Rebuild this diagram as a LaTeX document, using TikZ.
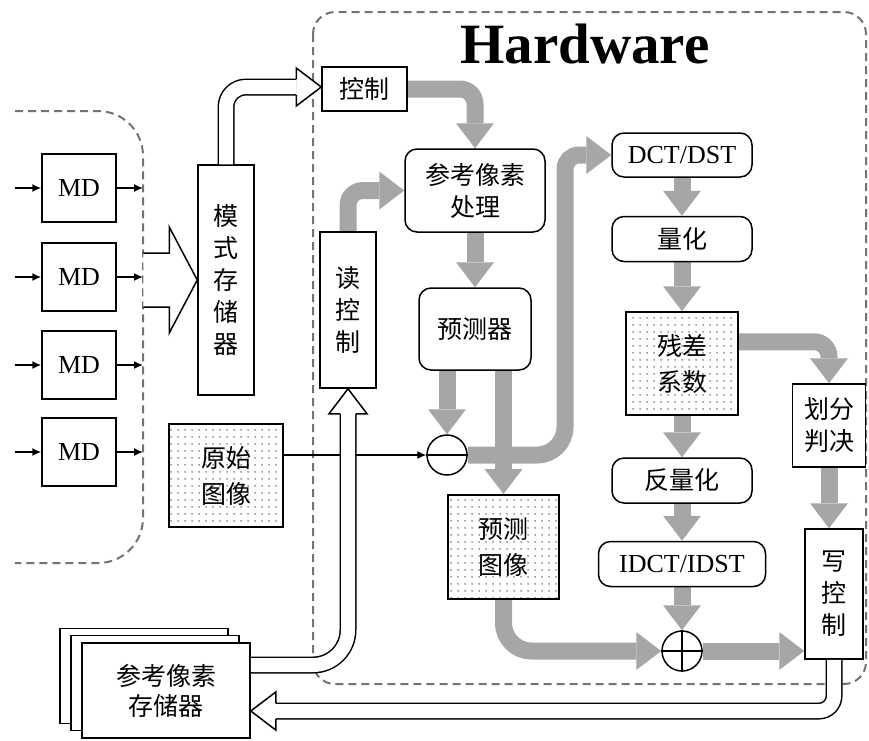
\documentclass[tikz,border=0pt]{standalone}
\usepackage{fontspec}
\setmainfont{Liberation Serif}
\newfontfamily\cjk{Noto Sans CJK SC}
\usetikzlibrary{positioning, calc, arrows.meta, backgrounds, patterns.meta}
\definecolor{flowgray}{RGB}{166,166,166}
\definecolor{dashgray}{RGB}{115,115,115}
\tikzdeclarepattern{
  name=sparsedots,
  type=uncolored,
  bounding box={(0pt,0pt) and (7pt,7pt)},
  tile size={(7pt,7pt)},
  code={\fill (3.5pt,3.5pt) circle (0.9pt);}
}

\begin{document}
\begin{tikzpicture}[x=1pt,y=-1pt,>=Latex,
    box/.style={draw, line width=1.5pt, fill=white, inner sep=0pt, align=center, font=\cjk\fontsize{25}{32}\selectfont},
    rbox/.style={box, rounded corners=12pt},
    dotbox/.style={box, line width=2pt, preaction={fill=white}, pattern=sparsedots, pattern color=black!70, font=\cjk\fontsize{25}{36}\selectfont},
    latin/.style={font=\fontsize{26}{30}\selectfont},
    sumnode/.style={draw, circle, line width=1.5pt, fill=white, minimum size=40pt, inner sep=0pt},
    sig/.style={line width=1.5pt, -{Latex[length=9pt,width=8pt]}},
    flow/.style={draw=flowgray, line width=17pt, -{Triangle[length=25pt,width=38pt,line width=0pt]}},
    hollow/.style={draw=black, line width=1.5pt, double=white, double distance=14pt},
    hollowtip/.style={draw=black, fill=white, line width=1.5pt, line join=miter},
    region/.style={draw=dashgray, line width=2pt, dash pattern=on 8pt off 5pt}]
    \useasboundingbox (0,0) rectangle (869,740);

    % left part: MD units
    \foreach \i/\y in {1/188,2/277,3/365,4/452} {
        \node[box, latin, minimum width=74pt, minimum height=68pt] (md\i) at (79,\y) {MD};
        \coordinate (in\i) at (15,\y);
        \coordinate (out\i) at (143,\y);
        \draw[sig] (in\i) -- (md\i);
        \draw[sig] (md\i) -- (out\i);
    }
    \node[box, minimum width=56pt, minimum height=230pt] (mode) at (226,280) {模\\式\\存\\储\\器};
    \node[dotbox, minimum width=114pt, minimum height=103pt] (orig) at (226,475.5) {原始\\图像};

    % reference memory (stacked)
    \node[box, minimum width=168pt, minimum height=95pt] (memback) at (144,676) {};
    \node[box, minimum width=168pt, minimum height=95pt] (memmid) at (155,683) {};
    \node[box, minimum width=168pt, minimum height=95pt, font=\cjk\fontsize{25}{30}\selectfont] (refmem) at (166,690.5) {参考像素\\存储器};

    % hardware part
    \node[font=\bfseries\fontsize{57}{60}\selectfont] (title) at (585,44) {Hardware};
    \node[box, minimum width=85pt, minimum height=44pt] (ctrl) at (364.5,89) {控制};
    \node[box, minimum width=56pt, minimum height=156pt] (rdctrl) at (348,310) {读\\控\\制};
    \node[rbox, minimum width=140pt, minimum height=83pt] (refproc) at (475,190.5) {参考像素\\处理};
    \node[rbox, minimum width=112pt, minimum height=82pt] (pred) at (475,329) {预测器};
    \node[sumnode] (sub) at (447,455) {};
    \node[dotbox, minimum width=111pt, minimum height=104pt] (predimg) at (503.5,547) {预测\\图像};

    \node[rbox, latin, minimum width=140pt, minimum height=44pt] (dct) at (682,155) {DCT/DST};
    \node[rbox, minimum width=140pt, minimum height=45pt, below=38pt of dct] (quant) {量化};
    \node[dotbox, minimum width=112pt, minimum height=103pt, below=49pt of quant] (resid) {残差\\系数};
    \node[rbox, minimum width=140pt, minimum height=45pt, below=41pt of resid] (iquant) {反量化};
    \node[rbox, latin, minimum width=167pt, minimum height=45pt, below=37pt of iquant] (idct) {IDCT/IDST};
    \node[sumnode, below=43pt of idct] (add) {};
    \node[box, minimum width=73pt, minimum height=83pt] (split) at (829,425.5) {划分\\判决};
    \node[box, minimum width=58pt, minimum height=130pt] (wrctrl) at (834,594) {写\\控\\制};

    \draw[line width=1.5pt] (sub.west) -- (sub.east);
    \draw[line width=1.5pt] (add.west) -- (add.east) (add.north) -- (add.south);

    \begin{scope}[on background layer]
        \draw[region, rounded corners=45pt] (15,111) -- (143,111) -- (143,563) -- (15,563);
        \draw[region, rounded corners=22pt] (313,12) rectangle (866,684);
        % data flow
        \coordinate (rise) at (565,300);
        \draw[flow, rounded corners=15pt] (ctrl.east) -| (refproc.north);
        \draw[flow, rounded corners=15pt] (rdctrl.north) |- (refproc.west);
        \draw[flow] (refproc.south) -- (pred.north);
        \draw[flow] (sub.north |- pred.south) -- (sub.north);
        \draw[flow] (predimg.north |- pred.south) -- (predimg.north);
        \draw[flow] (sub.east) [rounded corners=28pt] -| (rise) [rounded corners=14pt] |- (dct.west);
        \draw[flow] (dct.south) -- (quant.north);
        \draw[flow] (quant.south) -- (resid.north);
        \draw[flow] (resid.south) -- (iquant.north);
        \draw[flow] (iquant.south) -- (idct.north);
        \draw[flow] (idct.south) -- (add.north);
        \draw[flow, rounded corners=15pt] ($(resid.east)+(0,-22)$) -| (split.north);
        \draw[flow] (split.south) -- (split.south |- wrctrl.north);
        \draw[flow] (add.east) -- (add.east -| wrctrl.west);
        \draw[flow, rounded corners=28pt] (predimg.south) |- (add.west);
    \end{scope}

    \draw[line width=1.2pt, -{Latex[length=9pt,width=8pt]}] (orig.east |- sub.west) -- (sub.west);

    % hollow arrows
    \filldraw[hollowtip] ($(mode.west)+(-54,-27)$) -- ++(26,0) -- ++(0,-26) -- (mode.west) -- ($(mode.west)+(-28,53)$) -- ++(0,-26) -- ++(-26,0);
    \draw[hollow, rounded corners=20pt] (mode.north) |- ($(ctrl.west)+(-25,-2)$);
    \filldraw[hollowtip] ($(ctrl.west)+(-25,5.75)$) -- ++(0,11.25) -- ($(ctrl.west)+(0,-2)$) -- ($(ctrl.west)+(-25,-21)$) -- ++(0,11.25);
    \draw[hollow, rounded corners=35pt] ($(refmem.east)+(0,-25.5)$) -| ($(rdctrl.south)+(0,25)$);
    \filldraw[hollowtip] ($(rdctrl.south)+(-7.75,25)$) -- ++(-11.25,0) -- (rdctrl.south) -- ($(rdctrl.south)+(19,25)$) -- ++(-11.25,0);
    \draw[hollow, rounded corners=15pt] (wrctrl.south) |- ($(refmem.east)+(25,20.5)$);
    \filldraw[hollowtip] ($(refmem.east)+(25,12.75)$) -- ++(0,-11.25) -- ($(refmem.east)+(0,20.5)$) -- ($(refmem.east)+(25,39.5)$) -- ++(0,-11.25);
\end{tikzpicture}
\end{document}
